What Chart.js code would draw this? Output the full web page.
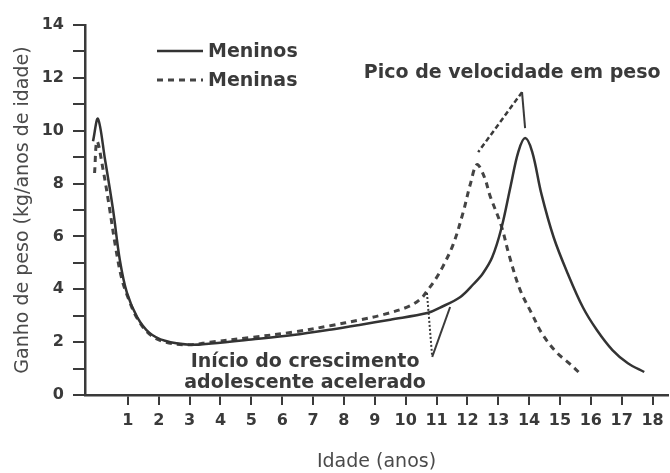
<!DOCTYPE html>
<html>
<head>
<meta charset="utf-8">
<script src="https://cdn.jsdelivr.net/npm/chart.js@4"></script>
<style>
  html, body { margin: 0; padding: 0; background: #fff; }
  #wrap { width: 670px; height: 473px; }
</style>
</head>
<body>
<div id="wrap"><canvas id="growth_chart"></canvas></div>
<script>
// idade (anos) / ganho de peso (kg/ano)
const boysAge = [-0.13, 0.03, 0.26, 0.52, 0.74, 0.97, 1.3, 1.7, 2.2, 3.0, 3.7, 5.0, 6.35, 7.6, 8.5, 9.5, 10.7, 11.1, 11.76, 12.2, 12.5, 12.8, 13.1, 13.4, 13.65, 13.87, 14.1, 14.4, 14.8, 15.25, 15.75, 16.2, 16.7, 17.2, 17.73];
const boysGain = [9.6, 10.45, 8.9, 7.0, 5.1, 3.86, 2.95, 2.35, 2.05, 1.9, 1.95, 2.1, 2.27, 2.48, 2.65, 2.85, 3.1, 3.3, 3.7, 4.2, 4.6, 5.2, 6.3, 7.9, 9.2, 9.72, 9.2, 7.6, 5.95, 4.6, 3.3, 2.45, 1.7, 1.2, 0.87];

const girlsAge = [-0.08, 0.0, 0.2, 0.4, 0.6, 0.8, 1.0, 1.3, 1.7, 2.2, 3.0, 3.66, 5.0, 6.35, 7.6, 8.5, 9.3, 10.1, 10.5, 10.7, 10.95, 11.2, 11.54, 11.86, 12.1, 12.31, 12.55, 12.73, 13.1, 13.35, 13.7, 14.1, 14.43, 14.9, 15.3, 15.7];
const girlsGain = [8.4, 9.6, 8.5, 7.1, 5.6, 4.4, 3.7, 2.9, 2.3, 2.0, 1.9, 2.0, 2.18, 2.38, 2.63, 2.84, 3.05, 3.35, 3.65, 3.95, 4.35, 4.85, 5.7, 6.9, 8.0, 8.72, 8.25, 7.55, 6.4, 5.3, 4.0, 3.05, 2.3, 1.6, 1.2, 0.76];

const xTickLabels = ["1", "2", "3", "4", "5", "6", "7", "8", "9", "10", "11", "12", "13", "14", "15", "16", "17", "18"];
const yTickValues = [0, 1, 2, 3, 4, 5, 6, 7, 8, 9, 10, 11, 12, 13, 14];

// anotações (coordenadas em valores do gráfico)
const peakLabel = "Pico de velocidade em peso";
const peakAnchor = [13.77, 11.46];
const peakBoys = [13.87, 10.1];
const peakGirls = [12.35, 9.19];
const spurtLabel = ["Início do crescimento", "adolescente acelerado"];
const spurtAnchor = [10.86, 1.44];
const spurtGirls = [10.69, 3.86];
const spurtBoys = [11.44, 3.33];

const ink = "#3a3a3a";
const fontName = "DejaVu Sans";

function toPoints(xs, ys) {
  return xs.map((x, i) => ({ x: x, y: ys[i] }));
}

const notes = {
  id: "notes",
  afterDatasetsDraw(chart) {
    const ctx = chart.ctx;
    const sx = chart.scales.x, sy = chart.scales.y;
    const px = (p) => [sx.getPixelForValue(p[0]), sy.getPixelForValue(p[1])];
    ctx.save();
    ctx.strokeStyle = ink;
    ctx.lineCap = "butt";

    let a = px(peakAnchor), b = px(peakBoys), g = px(peakGirls);
    ctx.lineWidth = 2;
    ctx.setLineDash([]);
    ctx.beginPath(); ctx.moveTo(a[0], a[1]); ctx.lineTo(b[0], b[1]); ctx.stroke();
    ctx.lineWidth = 2.5;
    ctx.setLineDash([5, 3]);
    ctx.beginPath(); ctx.moveTo(a[0], a[1]); ctx.lineTo(g[0], g[1]); ctx.stroke();

    a = px(spurtAnchor); b = px(spurtBoys); g = px(spurtGirls);
    ctx.lineWidth = 2;
    ctx.setLineDash([2, 2]);
    ctx.beginPath(); ctx.moveTo(g[0], g[1]); ctx.lineTo(a[0], a[1]); ctx.stroke();
    ctx.setLineDash([]);
    ctx.beginPath(); ctx.moveTo(a[0], a[1]); ctx.lineTo(b[0], b[1]); ctx.stroke();

    ctx.fillStyle = ink;
    ctx.font = "bold 19px '" + fontName + "'";
    ctx.textAlign = "center";
    ctx.textBaseline = "middle";
    ctx.fillText(peakLabel, sx.getPixelForValue(13.45), sy.getPixelForValue(12.18));
    ctx.fillText(spurtLabel[0], sx.getPixelForValue(6.74), sy.getPixelForValue(1.25));
    ctx.fillText(spurtLabel[1], sx.getPixelForValue(6.74), sy.getPixelForValue(0.45));

    // legenda
    const rows = [52, 81];
    chart.data.datasets.forEach((ds, i) => {
      const y = rows[i];
      ctx.strokeStyle = ds.borderColor;
      ctx.lineWidth = ds.borderWidth;
      ctx.setLineDash(ds.borderDash || []);
      ctx.beginPath(); ctx.moveTo(157, y - 1); ctx.lineTo(203, y - 1); ctx.stroke();
      ctx.textAlign = "left";
      ctx.fillText(ds.label, 208, y);
    });
    ctx.restore();
  },
};

new Chart(document.getElementById("growth_chart"), {
  type: "line",
  data: {
    datasets: [
      {
        label: "Meninos",
        data: toPoints(boysAge, boysGain),
        borderColor: "#333",
        borderWidth: 2.5,
        pointRadius: 0,
        tension: 0.35,
      },
      {
        label: "Meninas",
        data: toPoints(girlsAge, girlsGain),
        borderColor: "#444",
        borderWidth: 3,
        borderDash: [6, 5],
        pointRadius: 0,
        tension: 0.35,
      },
    ],
  },
  options: {
    responsive: true,
    maintainAspectRatio: false,
    animation: false,
    layout: { padding: { top: 25, right: 2, left: 0, bottom: 0 } },
    plugins: { legend: { display: false }, tooltip: { enabled: false } },
    scales: {
      x: {
        type: "linear",
        min: -0.39,
        max: 18.5,
        afterBuildTicks: (s) => { s.ticks = xTickLabels.map((t) => ({ value: Number(t) })); },
        afterFit: (s) => { s.height = 78; },
        ticks: {
          autoSkip: false,
          maxRotation: 0,
          padding: 6,
          color: ink,
          font: { family: fontName, size: 16, weight: "bold" },
          callback: (v) => String(v),
        },
        grid: { drawOnChartArea: false, drawTicks: true, tickLength: 10, color: ink, lineWidth: 2 },
        border: { display: true, color: ink, width: 2.5 },
        title: {
          display: true,
          text: "Idade (anos)",
          color: "#4a4a4a",
          font: { family: fontName, size: 19 },
          padding: { top: 0, bottom: 0 },
        },
      },
      y: {
        min: 0,
        max: 14,
        afterBuildTicks: (s) => { s.ticks = yTickValues.map((v) => ({ value: v })); },
        afterFit: (s) => { s.width = 85; },
        ticks: {
          autoSkip: false,
          padding: 9,
          color: ink,
          font: { family: fontName, size: 16, weight: "bold" },
          callback: (v) => (v % 2 === 0 ? String(v) : ""),
        },
        grid: { drawOnChartArea: false, drawTicks: true, tickLength: 12, color: ink, lineWidth: 2 },
        border: { display: true, color: ink, width: 2.5 },
        title: {
          display: true,
          text: "Ganho de peso (kg/anos de idade)",
          color: "#4a4a4a",
          font: { family: fontName, size: 19 },
          padding: { top: 12, bottom: 0 },
        },
      },
    },
  },
  plugins: [notes],
});
</script>
</body>
</html>
